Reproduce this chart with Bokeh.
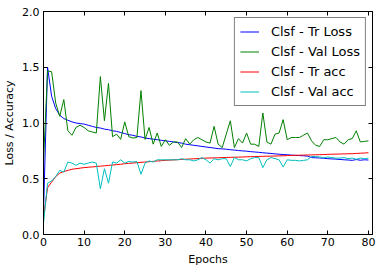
from bokeh.plotting import figure
from bokeh.models import Range1d, FixedTicker, LinearAxis, Legend, LegendItem
from bokeh.embed import file_html
from bokeh.resources import INLINE

epochs = list(range(81))

tr_loss = [0.20, 1.50, 1.24, 1.13, 1.07, 1.04, 1.025, 1.01, 1.00, 0.995,
           0.99, 0.98, 0.97, 0.96, 0.955, 0.945, 0.94, 0.93, 0.925, 0.915,
           0.905, 0.895, 0.89, 0.88, 0.875, 0.865, 0.86, 0.855, 0.85, 0.845,
           0.84, 0.835, 0.83, 0.825, 0.82, 0.81, 0.805, 0.80, 0.795, 0.79,
           0.785, 0.78, 0.775, 0.77, 0.768, 0.765, 0.76, 0.757, 0.753, 0.75,
           0.747, 0.743, 0.74, 0.737, 0.733, 0.73, 0.727, 0.723, 0.72, 0.717,
           0.715, 0.712, 0.71, 0.708, 0.706, 0.703, 0.69, 0.688, 0.686, 0.684,
           0.68, 0.678, 0.676, 0.673, 0.67, 0.668, 0.665, 0.672, 0.666, 0.67,
           0.668]

val_loss = [0.65, 1.467, 1.46, 1.18, 1.06, 1.21, 0.93, 0.89, 0.96, 0.98,
            0.96, 0.93, 0.92, 0.91, 1.416, 1.02, 1.356, 0.877, 0.90, 0.853,
            1.01, 0.877, 0.865, 0.87, 1.29, 0.853, 0.96, 0.81, 0.91, 0.79,
            0.85, 0.80, 0.83, 0.83, 0.78, 0.86, 0.81, 0.85, 0.87, 0.85,
            0.83, 0.82, 0.97, 0.81, 0.78, 0.90, 1.02, 0.78, 0.86, 0.82,
            0.91, 0.81, 0.81, 0.79, 1.09, 0.83, 0.81, 0.90, 0.91, 1.03,
            0.85, 0.87, 0.87, 0.87, 0.89, 0.91, 0.84, 0.80, 0.79, 0.85,
            0.85, 0.86, 0.87, 0.83, 0.81, 0.85, 0.86, 0.93, 0.83, 0.835,
            0.84]

tr_acc = [0.15, 0.42, 0.47, 0.52, 0.55, 0.565, 0.575, 0.585, 0.59, 0.595,
          0.60, 0.603, 0.606, 0.61, 0.613, 0.616, 0.62, 0.623, 0.627, 0.63,
          0.635, 0.638, 0.641, 0.644, 0.647, 0.65, 0.653, 0.656, 0.659, 0.662,
          0.665, 0.667, 0.669, 0.671, 0.673, 0.675, 0.677, 0.679, 0.681, 0.683,
          0.685, 0.686, 0.687, 0.688, 0.69, 0.691, 0.692, 0.693, 0.694, 0.695,
          0.697, 0.698, 0.699, 0.70, 0.701, 0.702, 0.703, 0.704, 0.705, 0.706,
          0.708, 0.709, 0.71, 0.711, 0.712, 0.713, 0.714, 0.715, 0.716, 0.717,
          0.719, 0.72, 0.721, 0.722, 0.723, 0.724, 0.725, 0.727, 0.729, 0.731,
          0.733]

val_acc = [0.10, 0.46, 0.48, 0.52, 0.575, 0.56, 0.65, 0.64, 0.62, 0.64,
           0.63, 0.64, 0.65, 0.64, 0.41, 0.59, 0.46, 0.65, 0.64, 0.67,
           0.64, 0.655, 0.65, 0.655, 0.54, 0.64, 0.66, 0.65, 0.67, 0.67,
           0.67, 0.67, 0.67, 0.67, 0.68, 0.67, 0.67, 0.66, 0.67, 0.69,
           0.67, 0.64, 0.68, 0.67, 0.68, 0.68, 0.61, 0.69, 0.67, 0.67,
           0.66, 0.68, 0.69, 0.69, 0.60, 0.67, 0.69, 0.68, 0.67, 0.605,
           0.67, 0.665, 0.665, 0.66, 0.665, 0.67, 0.70, 0.70, 0.695, 0.69,
           0.695, 0.69, 0.685, 0.685, 0.69, 0.68, 0.685, 0.675, 0.685, 0.68,
           0.685]

series_names = ["Clsf - Tr Loss", "Clsf - Val Loss", "Clsf - Tr acc", "Clsf - Val acc"]
series_colors = ["#0000ff", "#008000", "#ff0000", "#00bfbf"]

x_ticks = [0, 10, 20, 30, 40, 50, 60, 70, 80]
y_ticks = [0.0, 0.5, 1.0, 1.5, 2.0]
y_tick_labels = ["0.0", "0.5", "1.0", "1.5", "2.0"]

FONT = "DejaVu Sans"

p = figure(width=380, height=270, output_backend="svg", toolbar_location=None,
           x_range=Range1d(0, 81), y_range=Range1d(0, 2),
           min_border_left=36, min_border_right=8, min_border_top=11, min_border_bottom=36)
p.xaxis.visible = False
p.yaxis.visible = False
p.grid.visible = False
p.outline_line_color = "black"
p.outline_line_width = 1
p.background_fill_color = "white"
p.border_fill_color = "white"

def style_axis(ax, ticks, show_labels, overrides=None):
    ax.ticker = FixedTicker(ticks=ticks)
    ax.major_tick_in = 4
    ax.major_tick_out = 0
    ax.minor_tick_in = 0
    ax.minor_tick_out = 0
    ax.axis_line_color = "black"
    ax.major_tick_line_color = "black"
    ax.major_label_text_font = FONT
    ax.major_label_text_color = "black"
    ax.axis_label_text_font = FONT
    ax.axis_label_text_font_style = "normal"
    ax.axis_label_text_color = "black"
    if overrides:
        ax.major_label_overrides = overrides
    if show_labels:
        ax.major_label_text_font_size = "11px"
        ax.axis_label_text_font_size = "11px"
    else:
        ax.major_label_text_font_size = "1px"
        ax.major_label_text_color = None
        ax.major_label_standoff = 0

xb = LinearAxis(axis_label="Epochs")
style_axis(xb, x_ticks, True)
xb.major_label_standoff = 3
xb.axis_label_standoff = 4
p.add_layout(xb, "below")

yl = LinearAxis(axis_label="Loss / Accuracy")
style_axis(yl, y_ticks, True, {t: s for t, s in zip(y_ticks, y_tick_labels)})
yl.major_label_standoff = 4
yl.axis_label_standoff = 3
p.add_layout(yl, "left")

xt = LinearAxis()
style_axis(xt, x_ticks, False)
p.add_layout(xt, "above")

yr = LinearAxis()
style_axis(yr, y_ticks, False)
p.add_layout(yr, "right")

renderers = []
for data, col in zip([tr_loss, val_loss, tr_acc, val_acc], series_colors):
    r = p.line(epochs, data, line_color=col, line_width=1)
    renderers.append(r)

legend = Legend(items=[LegendItem(label=n, renderers=[r]) for n, r in zip(series_names, renderers)],
                location="top_right")
legend.label_text_font = FONT
legend.label_text_font_size = "13px"
legend.label_text_color = "black"
legend.glyph_width = 19
legend.glyph_height = 17
legend.label_height = 17
legend.label_standoff = 12
legend.spacing = 3
legend.padding = 5
legend.margin = 6
legend.border_line_color = "black"
legend.border_line_width = 1
legend.background_fill_alpha = 1
legend.background_fill_color = "white"
p.add_layout(legend, "center")

open("out.html", "w").write(file_html(p, INLINE))
